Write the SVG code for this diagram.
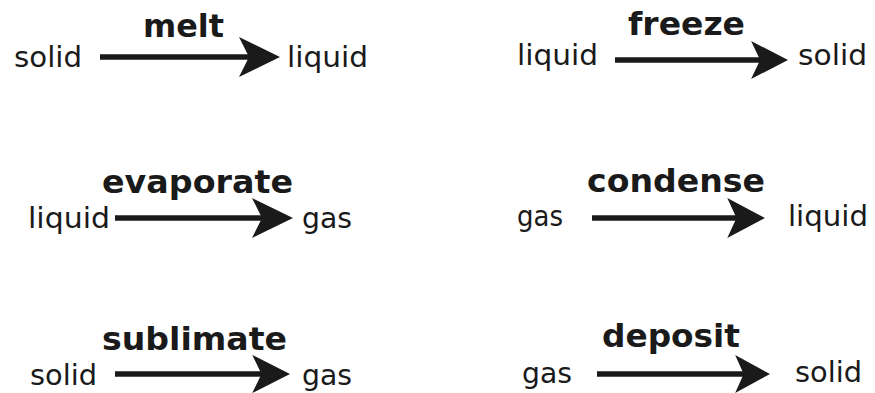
<svg xmlns="http://www.w3.org/2000/svg" xmlns:xlink="http://www.w3.org/1999/xlink" width="875" height="393" viewBox="0 0 875 393">
<style>
.st{font-family:"DejaVu Sans","Verdana",sans-serif;font-size:29px;fill:#1a1a1a}
.lb{font-family:"DejaVu Sans","Verdana",sans-serif;font-size:32px;font-weight:bold;fill:#1a1a1a}
.ln{stroke:#1a1a1a;stroke-width:5.5;fill:none}
.hd{fill:#1a1a1a}
</style>
<defs>
<path id="head" d="M0,0 L-41,-20 L-31,0 L-41,20 Z"/>
</defs>
<rect width="875" height="393" fill="#fff"/>
<g id="n-solid1"><text class="st" x="14" y="67" textLength="68" lengthAdjust="spacingAndGlyphs">solid</text></g>
<g id="n-liquid1"><text class="st" x="287" y="67" textLength="81" lengthAdjust="spacingAndGlyphs">liquid</text></g>
<g id="n-liquid2"><text class="st" x="517" y="65" textLength="81" lengthAdjust="spacingAndGlyphs">liquid</text></g>
<g id="n-solid2"><text class="st" x="798" y="65" textLength="69" lengthAdjust="spacingAndGlyphs">solid</text></g>
<g id="n-liquid3"><text class="st" x="28" y="228" textLength="82" lengthAdjust="spacingAndGlyphs">liquid</text></g>
<g id="n-gas1"><text class="st" x="302" y="228" textLength="50" lengthAdjust="spacingAndGlyphs">gas</text></g>
<g id="n-gas2"><text class="st" x="517" y="226" textLength="46" lengthAdjust="spacingAndGlyphs">gas</text></g>
<g id="n-liquid4"><text class="st" x="788" y="226" textLength="80" lengthAdjust="spacingAndGlyphs">liquid</text></g>
<g id="n-solid3"><text class="st" x="30" y="385" textLength="67" lengthAdjust="spacingAndGlyphs">solid</text></g>
<g id="n-gas3"><text class="st" x="302" y="385" textLength="50" lengthAdjust="spacingAndGlyphs">gas</text></g>
<g id="n-gas4"><text class="st" x="522" y="383" textLength="50" lengthAdjust="spacingAndGlyphs">gas</text></g>
<g id="n-solid4"><text class="st" x="795" y="382" textLength="67" lengthAdjust="spacingAndGlyphs">solid</text></g>
<g id="connectors">
<line class="ln" x1="100" y1="57" x2="255" y2="57"/><use xlink:href="#head" class="hd" transform="translate(280,57)"/>
<line class="ln" x1="615" y1="60" x2="765" y2="60"/><use xlink:href="#head" class="hd" transform="translate(788,60) scale(0.9,0.95)"/>
<line class="ln" x1="115" y1="218" x2="268" y2="218"/><use xlink:href="#head" class="hd" transform="translate(293,218)"/>
<line class="ln" x1="592" y1="218" x2="742" y2="218"/><use xlink:href="#head" class="hd" transform="translate(765,218) scale(0.92,1)"/>
<line class="ln" x1="115" y1="374" x2="266" y2="374"/><use xlink:href="#head" class="hd" transform="translate(290,374) scale(0.92,0.95)"/>
<line class="ln" x1="597" y1="374" x2="748" y2="374"/><use xlink:href="#head" class="hd" transform="translate(770,374) scale(0.85,0.95)"/>
</g>
<g id="labels">
<text class="lb" x="143" y="37" textLength="81" lengthAdjust="spacingAndGlyphs">melt</text>
<text class="lb" x="628" y="35" textLength="117" lengthAdjust="spacingAndGlyphs">freeze</text>
<text class="lb" x="102" y="193" textLength="191" lengthAdjust="spacingAndGlyphs">evaporate</text>
<text class="lb" x="587" y="192" textLength="178" lengthAdjust="spacingAndGlyphs">condense</text>
<text class="lb" x="102" y="350" textLength="185" lengthAdjust="spacingAndGlyphs">sublimate</text>
<text class="lb" x="602" y="347" textLength="138" lengthAdjust="spacingAndGlyphs">deposit</text>
</g>
</svg>
